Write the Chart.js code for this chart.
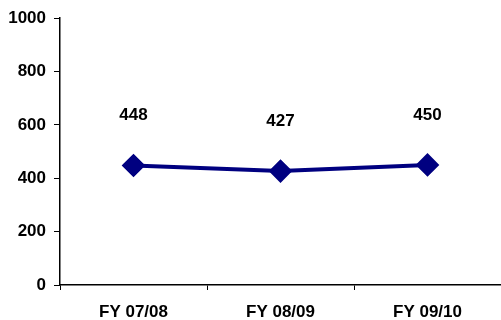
<!DOCTYPE html>
<html>
<head>
<meta charset="utf-8">
<script src="https://cdn.jsdelivr.net/npm/chart.js@4"></script>
<style>
  html, body { margin: 0; padding: 0; background: #fff; }
  #wrap { width: 501px; height: 320px; position: relative; }
</style>
</head>
<body>
<div id="wrap"><canvas id="graph"></canvas></div>
<script>
// 横軸のカテゴリ
const LABELS = ['FY 07/08', 'FY 08/09', 'FY 09/10'];
// 値
const VALUES = [448, 427, 450];
// 縦軸の目盛り
const Y_TICKS = [0, 200, 400, 600, 800, 1000];

const FONT = { family: 'Arial, "Liberation Sans", sans-serif', size: 17, weight: 'bold' };

// 点の上に値を書く
const valueLabels = {
  id: 'valueLabels',
  afterDatasetsDraw(chart) {
    const ctx = chart.ctx;
    const meta = chart.getDatasetMeta(0);
    ctx.save();
    ctx.font = 'bold 17px Arial, "Liberation Sans", sans-serif';
    ctx.fillStyle = '#000';
    ctx.textAlign = 'center';
    ctx.textBaseline = 'middle';
    meta.data.forEach(function(pt, i) {
      ctx.fillText(String(VALUES[i]), pt.x, pt.y - 50);
    });
    ctx.restore();
  }
};

new Chart(document.getElementById('graph'), {
  type: 'line',
  data: {
    labels: LABELS,
    datasets: [{
      data: VALUES,
      borderColor: '#000080',
      backgroundColor: '#000080',
      borderWidth: 4,
      pointStyle: 'rectRot',
      pointRadius: 9,
      pointHoverRadius: 9,
      fill: false,
      tension: 0
    }]
  },
  options: {
    responsive: true,
    maintainAspectRatio: false,
    animation: false,
    layout: { autoPadding: false, padding: { top: 16, right: 0, left: 0, bottom: 0 } },
    plugins: { legend: { display: false }, tooltip: { enabled: false } },
    scales: {
      x: {
        offset: true,
        grid: { offset: true, drawOnChartArea: false, color: '#000', tickLength: 5 },
        border: { color: '#000', width: 1.5 },
        ticks: { color: '#000', font: FONT, padding: 12, maxRotation: 0 },
        afterFit: function(scale) { scale.height = 35; }
      },
      y: {
        min: 0,
        max: 1000,
        afterBuildTicks: function(scale) { scale.ticks = Y_TICKS.map(v => ({ value: v })); },
        grid: { drawOnChartArea: false, color: '#000', tickLength: 6 },
        border: { color: '#000', width: 1.5 },
        ticks: { color: '#000', font: FONT, padding: 8, callback: v => String(v) },
        afterFit: function(scale) { scale.width = 60; }
      }
    }
  },
  plugins: [valueLabels]
});
</script>
</body>
</html>
